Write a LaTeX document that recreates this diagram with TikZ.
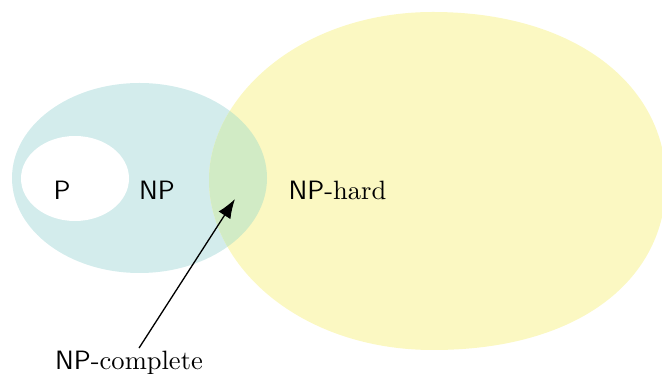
\documentclass[tikz,border=0pt]{standalone}
\usepackage{xcolor}
\usetikzlibrary{arrows.meta}

\definecolor{npteal}{RGB}{211,236,236}
\definecolor{nphard}{RGB}{251,248,194}
\definecolor{npboth}{RGB}{209,235,197}

\begin{document}
\begin{tikzpicture}[x=0.02cm,y=-0.02cm,
    setlabel/.style={anchor=base,inner sep=0pt,scale=1.51,transform shape}]
    \useasboundingbox (0,0) rectangle (662,374);
    \clip (0,0) rectangle (662,374);

    % NP and NP-hard regions
    \fill[npteal] (139.5,178) ellipse [x radius=127.5, y radius=95];
    \path[save path=\hardblob] (209,180)
        .. controls (209,97) and (300,12) .. (433,12)
        .. controls (575,12) and (666,85) .. (666,182)
        .. controls (666,279) and (580,350) .. (433,350)
        .. controls (300,350) and (209,266) .. (209,180) -- cycle;
    \fill[nphard, use path=\hardblob];

    % overlap
    \begin{scope}
        \clip[use path=\hardblob];
        \fill[npboth] (139.5,178) ellipse [x radius=127.5, y radius=95];
    \end{scope}

    % P inside NP
    \fill[white] (75,178.5) ellipse [x radius=54, y radius=42.5];

    % labels
    \node[setlabel] (p) at (62,200) {\textsf{P}};
    \node[setlabel] (np) at (157,200) {\textsf{NP}};
    \node[setlabel] (nph) at (337.5,200) {\textsf{NP}-hard};
    \node[setlabel] (npc) at (129,370) {\textsf{NP}-complete};

    % arrow into the overlap
    \coordinate (npctip) at (235,199);
    \draw[line width=0.75pt, -{Latex[length=11pt,width=8pt]}]
        ([xshift=5.7pt,yshift=1.7pt]npc.north) -- (npctip);
\end{tikzpicture}
\end{document}
